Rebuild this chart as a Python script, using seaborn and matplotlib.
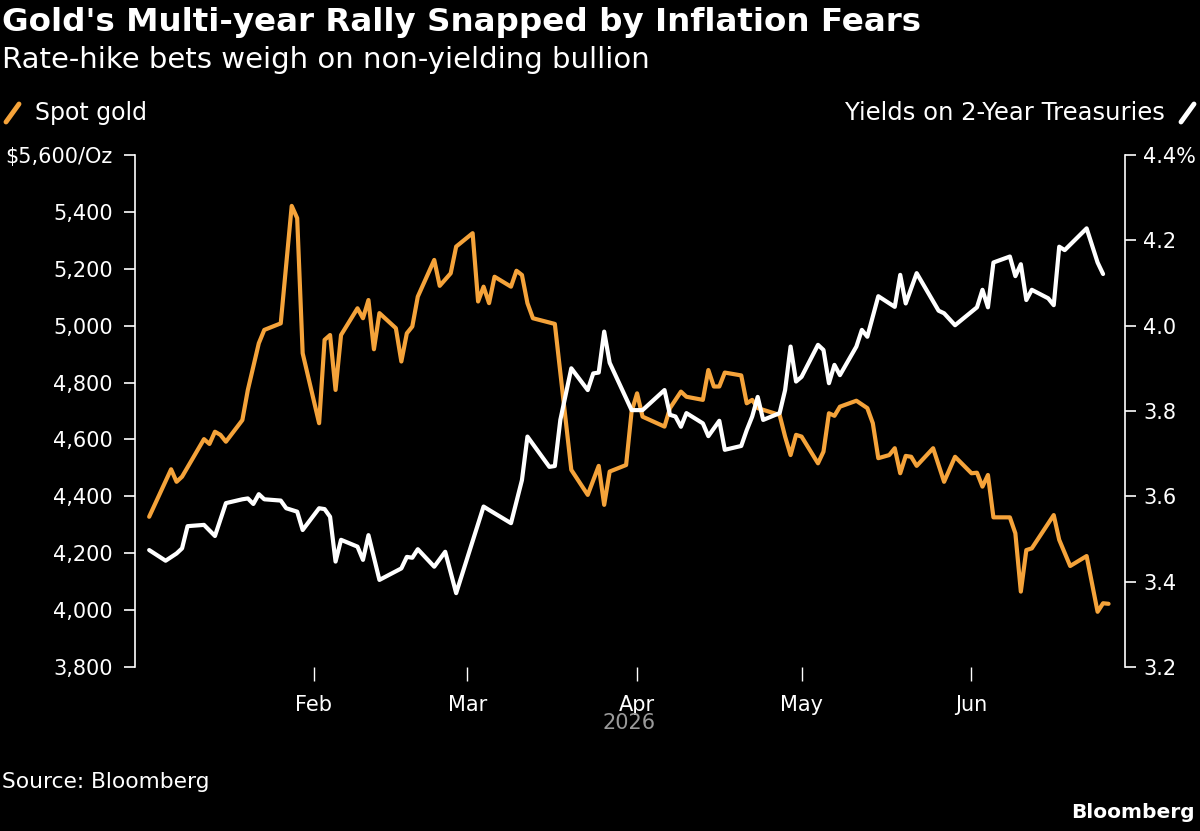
import matplotlib
matplotlib.use('Agg')
import matplotlib.pyplot as plt
import matplotlib.ticker as mticker
import matplotlib.dates as mdates
from matplotlib.lines import Line2D
import seaborn as sns
import pandas as pd

# Datos
fechas_oro = ['2026-01-02', '2026-01-06', '2026-01-07', '2026-01-08', '2026-01-12', '2026-01-13',
              '2026-01-14', '2026-01-15', '2026-01-16', '2026-01-19', '2026-01-20', '2026-01-22',
              '2026-01-23', '2026-01-26', '2026-01-28', '2026-01-29', '2026-01-30', '2026-02-02',
              '2026-02-03', '2026-02-04', '2026-02-05', '2026-02-06', '2026-02-09', '2026-02-10',
              '2026-02-11', '2026-02-12', '2026-02-13', '2026-02-16', '2026-02-17', '2026-02-18',
              '2026-02-19', '2026-02-20', '2026-02-23', '2026-02-24', '2026-02-26', '2026-02-27',
              '2026-03-02', '2026-03-03', '2026-03-04', '2026-03-05', '2026-03-06', '2026-03-09',
              '2026-03-10', '2026-03-11', '2026-03-12', '2026-03-13', '2026-03-17', '2026-03-20',
              '2026-03-23', '2026-03-25', '2026-03-26', '2026-03-27', '2026-03-30', '2026-03-31',
              '2026-04-01', '2026-04-02', '2026-04-06', '2026-04-07', '2026-04-09', '2026-04-10',
              '2026-04-13', '2026-04-14', '2026-04-15', '2026-04-16', '2026-04-17', '2026-04-20',
              '2026-04-21', '2026-04-22', '2026-04-23', '2026-04-24', '2026-04-27', '2026-04-28',
              '2026-04-29', '2026-04-30', '2026-05-01', '2026-05-04', '2026-05-05', '2026-05-06',
              '2026-05-07', '2026-05-08', '2026-05-11', '2026-05-13', '2026-05-14', '2026-05-15',
              '2026-05-17', '2026-05-18', '2026-05-19', '2026-05-20', '2026-05-21', '2026-05-22',
              '2026-05-25', '2026-05-27', '2026-05-29', '2026-06-01', '2026-06-02', '2026-06-03',
              '2026-06-04', '2026-06-05', '2026-06-08', '2026-06-09', '2026-06-10', '2026-06-11',
              '2026-06-12', '2026-06-16', '2026-06-17', '2026-06-19', '2026-06-22', '2026-06-24',
              '2026-06-25', '2026-06-26']
oro = [4328, 4495, 4451, 4469, 4601, 4584,
       4627, 4616, 4592, 4668, 4774, 4938,
       4985, 5008, 5421, 5378, 4903, 4657,
       4950, 4967, 4774, 4967, 5061, 5026,
       5090, 4917, 5044, 4991, 4874, 4973,
       4997, 5102, 5231, 5140, 5184, 5278,
       5325, 5085, 5137, 5079, 5172, 5137,
       5193, 5178, 5079, 5026, 5006, 4493,
       4405, 4507, 4370, 4487, 4510, 4698,
       4762, 4680, 4645, 4710, 4768, 4750,
       4739, 4844, 4786, 4786, 4835, 4825,
       4727, 4739, 4710, 4704, 4686, 4610,
       4545, 4616, 4610, 4516, 4557, 4692,
       4683, 4715, 4736, 4710, 4657, 4534,
       4545, 4569, 4481, 4542, 4539, 4507,
       4569, 4451, 4539, 4481, 4483, 4434,
       4475, 4326, 4326, 4270, 4065, 4211,
       4217, 4334, 4247, 4155, 4190, 3994,
       4024, 4022]

fechas_bonos = ['2026-01-02', '2026-01-05', '2026-01-07', '2026-01-08', '2026-01-09', '2026-01-12',
                '2026-01-14', '2026-01-16', '2026-01-19', '2026-01-20', '2026-01-21', '2026-01-22',
                '2026-01-23', '2026-01-26', '2026-01-27', '2026-01-29', '2026-01-30', '2026-02-02',
                '2026-02-03', '2026-02-04', '2026-02-05', '2026-02-06', '2026-02-09', '2026-02-10',
                '2026-02-11', '2026-02-13', '2026-02-17', '2026-02-18', '2026-02-19', '2026-02-20',
                '2026-02-23', '2026-02-25', '2026-02-27', '2026-03-04', '2026-03-05', '2026-03-09',
                '2026-03-11', '2026-03-12', '2026-03-16', '2026-03-17', '2026-03-18', '2026-03-20',
                '2026-03-23', '2026-03-24', '2026-03-25', '2026-03-26', '2026-03-27', '2026-03-31',
                '2026-04-02', '2026-04-06', '2026-04-07', '2026-04-08', '2026-04-09', '2026-04-10',
                '2026-04-13', '2026-04-14', '2026-04-16', '2026-04-17', '2026-04-20', '2026-04-21',
                '2026-04-22', '2026-04-23', '2026-04-24', '2026-04-27', '2026-04-28', '2026-04-29',
                '2026-04-30', '2026-05-01', '2026-05-04', '2026-05-05', '2026-05-06', '2026-05-07',
                '2026-05-08', '2026-05-11', '2026-05-12', '2026-05-13', '2026-05-15', '2026-05-18',
                '2026-05-19', '2026-05-20', '2026-05-22', '2026-05-26', '2026-05-27', '2026-05-29',
                '2026-06-02', '2026-06-03', '2026-06-04', '2026-06-05', '2026-06-08', '2026-06-09',
                '2026-06-10', '2026-06-11', '2026-06-12', '2026-06-15', '2026-06-16', '2026-06-17',
                '2026-06-18', '2026-06-22', '2026-06-24', '2026-06-25']
bonos = [3.474, 3.449, 3.466, 3.478, 3.530, 3.533,
         3.507, 3.584, 3.593, 3.595, 3.582, 3.605,
         3.593, 3.590, 3.572, 3.564, 3.521, 3.572,
         3.570, 3.552, 3.447, 3.498, 3.482, 3.451,
         3.509, 3.404, 3.431, 3.458, 3.456, 3.476,
         3.435, 3.470, 3.373, 3.576, 3.568, 3.537,
         3.638, 3.740, 3.669, 3.671, 3.779, 3.900,
         3.849, 3.888, 3.890, 3.986, 3.913, 3.802,
         3.802, 3.849, 3.791, 3.787, 3.763, 3.795,
         3.771, 3.741, 3.777, 3.709, 3.718, 3.755,
         3.787, 3.833, 3.779, 3.795, 3.849, 3.951,
         3.869, 3.880, 3.955, 3.943, 3.865, 3.908,
         3.884, 3.951, 3.990, 3.974, 4.069, 4.044,
         4.119, 4.052, 4.123, 4.035, 4.029, 4.001,
         4.043, 4.084, 4.043, 4.148, 4.162, 4.116,
         4.144, 4.060, 4.084, 4.064, 4.048, 4.185,
         4.177, 4.228, 4.148, 4.121]

ticks_oro = [3800, 4000, 4200, 4400, 4600, 4800, 5000, 5200, 5400, 5600]
ticks_bonos = [3.2, 3.4, 3.6, 3.8, 4.0, 4.2, 4.4]

df_oro = pd.DataFrame({'fecha': pd.to_datetime(fechas_oro), 'valor': oro})
df_bonos = pd.DataFrame({'fecha': pd.to_datetime(fechas_bonos), 'valor': bonos})

naranja = '#f5a33a'
blanco = '#ffffff'
gris = '#9a9a9a'

sns.set_theme(style='dark', rc={'axes.facecolor': 'black', 'figure.facecolor': 'black',
                                'axes.grid': False, 'text.color': 'white'})
plt.rcParams['font.family'] = ['DejaVu Sans']

fig = plt.figure(figsize=(12, 8.31), dpi=100)
ax = fig.add_axes([0.1125, 0.1974, 0.825, 0.6161])
ax2 = ax.twinx()

sns.lineplot(data=df_oro, x='fecha', y='valor', ax=ax, color=naranja, linewidth=3,
             solid_joinstyle='round', solid_capstyle='round')
sns.lineplot(data=df_bonos, x='fecha', y='valor', ax=ax2, color=blanco, linewidth=3,
             solid_joinstyle='round', solid_capstyle='round')

ax.set_xlim(pd.Timestamp('2025-12-30 10:00'), pd.Timestamp('2026-06-29'))
ax.set_ylim(3800, 5600)
ax2.set_ylim(3.2, 4.4)
for a in (ax, ax2):
    a.set_xlabel('')
    a.set_ylabel('')
    for s in a.spines.values():
        s.set_visible(False)
ax.spines['left'].set_visible(True)
ax.spines['left'].set_color('white')
ax.spines['left'].set_linewidth(1.2)
ax2.spines['right'].set_visible(True)
ax2.spines['right'].set_color('white')
ax2.spines['right'].set_linewidth(1.2)

ax.set_yticks(ticks_oro)
ax.yaxis.set_major_formatter(mticker.FuncFormatter(
    lambda v, p: f'${v:,.0f}/Oz' if v == 5600 else f'{v:,.0f}'))
ax2.set_yticks(ticks_bonos)
ax2.yaxis.set_major_formatter(mticker.FuncFormatter(
    lambda v, p: f'{v:.1f}%' if abs(v - 4.4) < 1e-6 else f'{v:.1f}'))

ax.tick_params(axis='y', left=True, colors='white', length=8, width=1.2, pad=8, labelsize=15)
ax2.tick_params(axis='y', right=True, colors='white', length=8, width=1.2, pad=5, labelsize=15)

ax.xaxis.set_major_locator(mdates.MonthLocator(bymonth=[2, 3, 4, 5, 6]))
ax.xaxis.set_major_formatter(mdates.DateFormatter('%b'))
ax.tick_params(axis='x', bottom=True, colors='white', length=10, width=1, pad=10, labelsize=15)

# Textos
fig.text(0.002, 1 - 22 / 831, "Gold's Multi-year Rally Snapped by Inflation Fears",
         fontsize=23.4, fontweight='bold', color='white', va='center')
fig.text(0.002, 1 - 60 / 831, 'Rate-hike bets weigh on non-yielding bullion',
         fontsize=21, color='white', va='center')
fig.text(35 / 1200, 1 - 113 / 831, 'Spot gold', fontsize=17, color='white', va='center')
fig.text(1165 / 1200, 1 - 113 / 831, 'Yields on 2-Year Treasuries', fontsize=17.5,
         color='white', va='center', ha='right')
fig.add_artist(Line2D([6 / 1200, 19 / 1200], [1 - 122 / 831, 1 - 104 / 831],
                      color=naranja, linewidth=3.5, solid_capstyle='round'))
fig.add_artist(Line2D([1181 / 1200, 1194 / 1200], [1 - 122 / 831, 1 - 104 / 831],
                      color=blanco, linewidth=3.5, solid_capstyle='round'))
fig.text(629 / 1200, 1 - 723 / 831, '2026', fontsize=15, color=gris, ha='center', va='center')
fig.text(0.002, 1 - 782 / 831, 'Source: Bloomberg', fontsize=15.7, color='white', va='center')
fig.text(0.996, 1 - 813 / 831, 'Bloomberg', fontsize=14.5, fontweight='bold',
         color='white', va='center', ha='right')

fig.savefig('out.png', dpi=100, facecolor='black')
